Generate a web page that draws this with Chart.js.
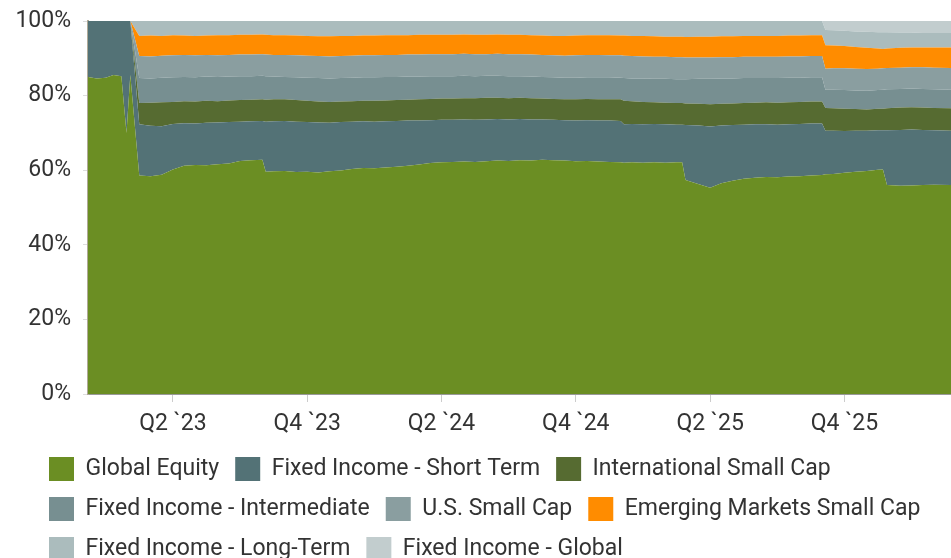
<!DOCTYPE html>
<html><head><meta charset="utf-8">
<script src="https://cdn.jsdelivr.net/npm/chart.js@4/dist/chart.umd.min.js"></script>
<style>html,body{margin:0;padding:0;background:#fff;overflow:hidden}canvas{display:block}</style>
</head><body>
<canvas id="c" width="951" height="571"></canvas>
<script>
// x positions: months since 1 Jan 2023
const months = [-0.79,-0.4,0.0,0.35,0.7,0.93,1.1,
 1.5,2.0,2.5,3.0,3.5,4.0,4.5,5.0,5.5,6.0,6.5,7.0,7.15,
 7.5,8.0,8.5,9.0,9.5,10.0,10.5,11.0,11.5,12.0,12.5,13.0,13.5,14.0,14.5,15.0,15.5,16.0,16.5,17.0,17.5,18.0,18.5,19.0,19.5,20.0,20.5,21.0,21.5,22.0,22.5,23.0,
 23.15,23.5,24.0,24.5,25.0,25.5,25.75,25.9,
 26.5,27.0,27.5,28.0,28.5,29.0,29.5,30.0,30.5,31.0,31.5,32.0,
 32.15,32.5,33.0,33.5,34.0,34.5,34.72,34.9,35.5,36.0,36.5,37.0,37.76];

const globalEquity = [85.0,84.6,84.8,85.5,85.2,70.0,85.5,
 58.6,58.4,58.8,60.2,61.2,61.4,61.3,61.6,61.8,62.5,62.7,62.8,59.6,
 59.7,59.8,59.5,59.6,59.4,59.7,59.9,60.3,60.6,60.5,60.7,60.9,61.2,61.5,61.9,62.1,62.2,62.3,62.2,62.4,62.6,62.5,62.7,62.6,62.8,62.7,62.6,62.4,62.5,62.3,62.2,62.1,
 62.0,62.1,62.0,62.1,62.0,62.1,62.1,57.4,
 56.2,55.3,56.5,57.2,57.7,58.0,58.2,58.1,58.3,58.4,58.6,58.7,
 58.9,59.0,59.3,59.6,59.8,60.1,60.2,56.0,55.8,55.9,56.0,56.1,56.0];

const fiShortTerm = [15.0,15.4,15.2,14.5,14.8,30.0,14.5,
 13.7,13.5,13.0,12.2,11.4,11.1,11.4,11.2,11.1,10.5,10.4,10.4,13.4,
 13.4,13.4,13.5,13.3,13.4,13.0,13.0,12.7,12.5,12.5,12.4,12.3,12.1,11.8,11.5,11.4,11.3,11.3,11.3,11.2,11.1,11.1,11.0,11.0,10.8,10.8,10.8,10.9,10.9,11.0,11.1,11.1,
 10.3,10.3,10.3,10.3,10.3,10.1,10.1,14.7,
 15.8,16.4,15.5,14.9,14.5,14.3,14.1,14.1,14.0,14.0,13.9,13.8,
 11.7,11.6,11.2,11.0,10.8,10.6,10.5,14.7,15.0,15.0,14.8,14.6,14.6];

const intlSmallCap = [0,0,0,0,0,0,0,
 5.7,6.2,6.4,5.9,5.9,5.9,5.9,5.7,5.8,5.8,5.8,5.8,5.9,
 5.9,5.8,5.8,5.7,5.6,5.6,5.5,5.5,5.5,5.6,5.6,5.6,5.6,5.7,5.7,5.7,5.7,5.7,5.8,5.8,5.7,5.7,5.7,5.7,5.6,5.6,5.6,5.7,5.7,5.7,5.7,5.8,
 6.3,6.1,6.0,5.8,5.8,5.8,5.8,5.8,
 5.8,6.0,5.8,5.8,5.8,5.8,5.9,5.9,5.9,5.9,5.9,5.9,
 6.1,6.0,6.0,5.8,5.7,5.8,5.8,5.9,6.0,6.0,6.0,6.0,6.0];

const fiIntermediate = [0,0,0,0,0,0,0,
 6.7,6.5,6.6,6.6,6.5,6.5,6.5,6.5,6.4,6.4,6.3,6.3,6.3,
 6.1,6.0,6.1,6.2,6.3,6.3,6.3,6.3,6.3,6.3,6.3,6.2,6.2,6.1,6.1,6.0,6.0,6.0,5.9,5.9,5.9,5.9,5.8,5.8,5.8,5.8,5.8,5.8,5.8,5.9,5.9,5.8,
 6.1,6.1,6.3,6.3,6.4,6.4,6.4,6.5,
 6.7,6.8,6.8,6.7,6.7,6.6,6.5,6.6,6.6,6.5,6.5,6.5,
 4.9,5.0,5.0,5.0,5.0,5.0,5.1,5.1,5.0,5.0,5.0,5.0,5.0];

const usSmallCap = [0,0,0,0,0,0,0,
 5.9,5.9,5.9,5.9,5.9,5.9,5.8,5.8,5.8,5.8,5.8,5.8,5.8,
 5.8,5.9,5.9,5.9,5.9,5.9,5.9,5.9,5.9,5.9,5.9,5.9,5.9,5.9,5.9,5.9,5.9,5.9,5.9,5.8,5.9,5.9,5.9,5.9,5.9,5.9,5.9,6.0,6.0,6.0,5.9,6.0,
 6.0,6.0,5.9,5.9,5.9,5.9,5.9,5.8,
 5.7,5.7,5.7,5.7,5.7,5.7,5.7,5.7,5.7,5.7,5.7,5.7,
 5.6,5.7,5.8,5.8,5.8,5.7,5.7,5.7,5.7,5.7,5.8,5.8,5.8];

const emSmallCap = [0,0,0,0,0,0,0,
 5.4,5.6,5.3,5.4,5.2,5.2,5.2,5.4,5.3,5.3,5.3,5.3,5.3,
 5.3,5.3,5.3,5.3,5.3,5.4,5.4,5.3,5.3,5.3,5.3,5.3,5.2,5.3,5.2,5.2,5.2,5.2,5.2,5.2,5.2,5.2,5.2,5.2,5.2,5.2,5.3,5.3,5.3,5.3,5.4,5.3,
 5.4,5.4,5.5,5.5,5.4,5.5,5.5,5.5,
 5.6,5.6,5.6,5.6,5.6,5.6,5.6,5.6,5.6,5.6,5.6,5.6,
 6.3,6.1,6.0,5.8,5.7,5.4,5.2,5.2,5.3,5.3,5.3,5.4,5.5];

const fiLongTerm = [0,0,0,0,0,0,0,
 4.0,3.9,4.0,3.8,3.9,4.0,3.9,3.8,3.8,3.7,3.7,3.6,3.7,
 3.8,3.8,3.9,4.0,4.1,4.1,4.0,4.0,3.9,3.9,3.8,3.8,3.8,3.7,3.7,3.7,3.7,3.6,3.7,3.7,3.6,3.7,3.7,3.8,3.9,4.0,4.0,3.9,3.8,3.8,3.8,3.9,
 3.9,4.0,4.0,4.1,4.2,4.2,4.2,4.3,
 4.2,4.2,4.1,4.1,4.0,4.0,4.0,4.0,3.9,3.9,3.8,3.8,
 4.1,4.1,4.1,4.2,4.3,4.4,4.5,4.4,4.1,4.0,3.9,3.9,3.9];

const fiGlobal = [0,0,0,0,0,0,0,
 0,0,0,0,0,0,0,0,0,0,0,0,0,
 0,0,0,0,0,0,0,0,0,0,0,0,0,0,0,0,0,0,0,0,0,0,0,0,0,0,0,0,0,0,0,0,
 0,0,0,0,0,0,0,0,
 0,0,0,0,0,0,0,0,0,0,0,0,
 2.4,2.5,2.6,2.8,2.9,3.0,3.0,3.0,3.1,3.1,3.2,3.2,3.2];

const seriesNames = ["Global Equity","Fixed Income - Short Term","International Small Cap",
 "Fixed Income - Intermediate","U.S. Small Cap","Emerging Markets Small Cap",
 "Fixed Income - Long-Term","Fixed Income - Global"];
const seriesValues = [globalEquity,fiShortTerm,intlSmallCap,fiIntermediate,usSmallCap,emSmallCap,fiLongTerm,fiGlobal];
const seriesColors = ["#6b8e23","#537276","#566b31","#778f91","#8a9ea0","#ff8c00","#abbcbd","#c2cdce"];

const tickValues = [3,9,15,21,27,33];
const tickLabels = ["Q2 `23","Q4 `23","Q2 `24","Q4 `24","Q2 `25","Q4 `25"];

const datasets = seriesValues.map((vals,i)=>({
  label: seriesNames[i],
  data: vals.map((v,j)=>({x: months[j], y: v})),
  backgroundColor: seriesColors[i],
  borderColor: seriesColors[i],
  borderWidth: 0,
  pointRadius: 0,
  tension: 0,
  fill: i === 0 ? 'origin' : '-1'
}));

Chart.defaults.font.family = 'Roboto';
Chart.defaults.font.size = 23;
Chart.defaults.color = '#333333';

// shift the legend so its rows start under the plot, as in the reference
const legendShift = {
  id: 'legendShift',
  afterLayout(chart) { if (chart.legend) { chart.legend.left += 33; } }
};

new Chart(document.getElementById('c'), {
  type: 'line',
  data: { datasets },
  plugins: [legendShift],
  options: {
    responsive: false,
    animation: false,
    devicePixelRatio: 1,
    layout: { padding: { left: 0, top: 21, right: 0, bottom: 0 } },
    plugins: {
      legend: {
        position: 'bottom', align: 'start',
        labels: { boxWidth: 25, boxHeight: 24, padding: 16, color: '#333333', font: { family: 'Roboto', size: 23 } }
      },
      tooltip: { enabled: false }
    },
    scales: {
      x: {
        type: 'linear', min: -0.79, max: 37.76,
        afterBuildTicks: s => { s.ticks = tickValues.map(v => ({ value: v })); },
        afterFit: s => { s.height = 47; s.paddingLeft = 0; s.paddingRight = 0; },
        ticks: { callback: (v, i) => tickLabels[i], padding: 8, maxRotation: 0, autoSkip: false, color: '#333333' },
        grid: { drawOnChartArea: false, tickLength: 8, color: '#cccccc' },
        border: { color: '#999999', width: 2 }
      },
      y: {
        stacked: true, min: 0, max: 100,
        afterFit: s => { s.width = 88; s.paddingTop = 0; s.paddingBottom = 0; },
        ticks: { stepSize: 20, callback: v => v + '%', padding: 12, color: '#333333' },
        grid: { drawOnChartArea: false, tickLength: 5, color: '#dddddd' },
        border: { color: '#b0aa98', width: 2 }
      }
    }
  }
});
</script>
</body></html>
